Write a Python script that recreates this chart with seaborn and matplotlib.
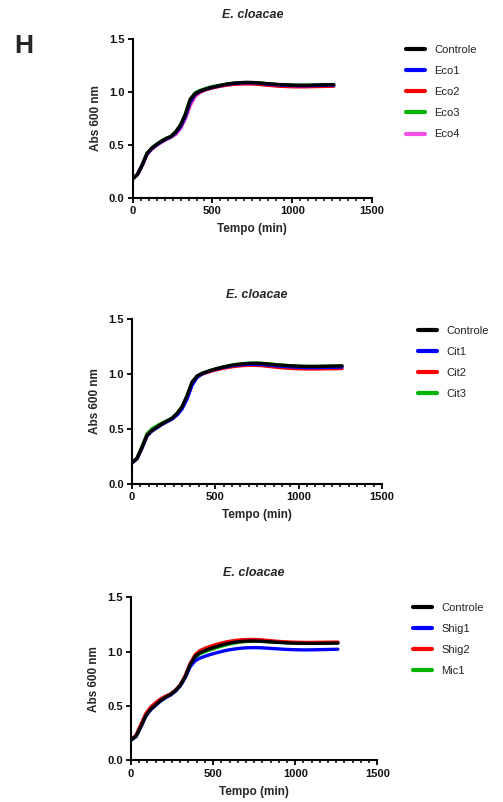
import matplotlib
matplotlib.use("Agg")
import matplotlib.pyplot as plt
import seaborn as sns
import pandas as pd
from matplotlib.ticker import MultipleLocator, FixedLocator
from matplotlib.lines import Line2D

# ---------------- data ----------------
TIME = [0, 30, 60, 90, 120, 150, 180, 210, 240, 270, 300, 330, 360, 390, 420,
        450, 480, 510, 540, 570, 600, 630, 660, 690, 720, 750, 780, 810, 840,
        870, 900, 930, 960, 990, 1020, 1050, 1080, 1110, 1140, 1170, 1200,
        1230, 1260]

# Panel 1 : Controle, Eco1..Eco4
ECO_CONTROLE = [0.180, 0.220, 0.310, 0.420, 0.470, 0.505, 0.535, 0.560, 0.580, 0.625,
                0.690, 0.790, 0.930, 0.985, 1.010, 1.025, 1.040, 1.050, 1.060, 1.070,
                1.078, 1.084, 1.088, 1.091, 1.092, 1.091, 1.088, 1.085, 1.081, 1.077,
                1.074, 1.071, 1.069, 1.067, 1.066, 1.065, 1.065, 1.066, 1.067, 1.068,
                1.069, 1.070, 1.071]
ECO1 = [0.180, 0.220, 0.310, 0.415, 0.465, 0.500, 0.530, 0.555, 0.577, 0.615,
        0.675, 0.770, 0.905, 0.978, 1.005, 1.022, 1.037, 1.048, 1.058, 1.067,
        1.075, 1.081, 1.085, 1.088, 1.089, 1.088, 1.085, 1.081, 1.077, 1.073,
        1.069, 1.066, 1.064, 1.062, 1.061, 1.060, 1.060, 1.061, 1.062, 1.063,
        1.064, 1.065, 1.066]
ECO2 = [0.180, 0.220, 0.310, 0.415, 0.465, 0.500, 0.530, 0.555, 0.576, 0.610,
        0.670, 0.765, 0.895, 0.972, 1.000, 1.018, 1.032, 1.043, 1.053, 1.061,
        1.068, 1.073, 1.076, 1.078, 1.078, 1.077, 1.074, 1.070, 1.066, 1.062,
        1.058, 1.055, 1.053, 1.051, 1.050, 1.050, 1.050, 1.051, 1.052, 1.053,
        1.054, 1.055, 1.056]
ECO3 = [0.180, 0.222, 0.315, 0.422, 0.472, 0.507, 0.537, 0.562, 0.582, 0.625,
        0.690, 0.790, 0.928, 0.990, 1.015, 1.030, 1.045, 1.055, 1.063, 1.071,
        1.078, 1.083, 1.087, 1.089, 1.090, 1.089, 1.086, 1.083, 1.079, 1.075,
        1.072, 1.069, 1.067, 1.065, 1.064, 1.064, 1.064, 1.065, 1.066, 1.067,
        1.068, 1.069, 1.070]
ECO4 = [0.180, 0.218, 0.305, 0.410, 0.460, 0.495, 0.525, 0.550, 0.572, 0.600,
        0.655, 0.745, 0.870, 0.955, 0.995, 1.018, 1.033, 1.045, 1.055, 1.063,
        1.070, 1.075, 1.078, 1.080, 1.080, 1.079, 1.076, 1.072, 1.068, 1.064,
        1.061, 1.058, 1.056, 1.055, 1.054, 1.054, 1.054, 1.055, 1.056, 1.057,
        1.058, 1.059, 1.060]

# Panel 2 : Controle, Cit1..Cit3
CIT_CONTROLE = [0.190, 0.230, 0.330, 0.440, 0.485, 0.515, 0.545, 0.570, 0.595, 0.640,
                0.700, 0.800, 0.925, 0.980, 1.005, 1.020, 1.035, 1.048, 1.060, 1.070,
                1.079, 1.086, 1.091, 1.095, 1.097, 1.097, 1.095, 1.091, 1.087, 1.083,
                1.079, 1.076, 1.073, 1.071, 1.069, 1.068, 1.068, 1.068, 1.069, 1.070,
                1.071, 1.072, 1.073]
CIT1 = [0.190, 0.228, 0.325, 0.435, 0.480, 0.510, 0.540, 0.565, 0.588, 0.625,
        0.680, 0.770, 0.895, 0.968, 1.000, 1.018, 1.033, 1.046, 1.057, 1.066,
        1.074, 1.080, 1.084, 1.087, 1.088, 1.087, 1.085, 1.081, 1.077, 1.073,
        1.069, 1.066, 1.063, 1.061, 1.059, 1.058, 1.058, 1.058, 1.059, 1.060,
        1.060, 1.061, 1.062]
CIT2 = [0.190, 0.230, 0.328, 0.438, 0.483, 0.513, 0.543, 0.567, 0.590, 0.632,
        0.690, 0.785, 0.910, 0.972, 0.998, 1.013, 1.027, 1.039, 1.049, 1.058,
        1.065, 1.071, 1.075, 1.078, 1.079, 1.078, 1.075, 1.070, 1.065, 1.060,
        1.056, 1.052, 1.049, 1.047, 1.046, 1.045, 1.045, 1.045, 1.046, 1.047,
        1.047, 1.048, 1.049]
CIT3 = [0.190, 0.235, 0.340, 0.455, 0.500, 0.528, 0.553, 0.575, 0.598, 0.640,
        0.700, 0.798, 0.922, 0.980, 1.005, 1.021, 1.036, 1.049, 1.061, 1.071,
        1.080, 1.087, 1.092, 1.095, 1.097, 1.097, 1.095, 1.091, 1.087, 1.083,
        1.079, 1.076, 1.073, 1.071, 1.069, 1.068, 1.068, 1.068, 1.069, 1.070,
        1.071, 1.072, 1.073]

# Panel 3 : Controle, Shig1, Shig2, Mic1
SHIG_CONTROLE = [0.187, 0.220, 0.310, 0.410, 0.470, 0.510, 0.550, 0.580, 0.605, 0.640,
                 0.690, 0.770, 0.880, 0.955, 0.990, 1.010, 1.027, 1.042, 1.056, 1.068,
                 1.078, 1.086, 1.092, 1.096, 1.098, 1.098, 1.097, 1.094, 1.091, 1.088,
                 1.085, 1.082, 1.080, 1.078, 1.077, 1.076, 1.076, 1.076, 1.076, 1.077,
                 1.077, 1.078, 1.078]
SHIG1 = [0.187, 0.218, 0.305, 0.405, 0.465, 0.505, 0.545, 0.575, 0.600, 0.635,
         0.685, 0.760, 0.860, 0.915, 0.940, 0.957, 0.972, 0.985, 0.997, 1.008,
         1.017, 1.024, 1.030, 1.034, 1.036, 1.037, 1.036, 1.034, 1.031, 1.028,
         1.025, 1.022, 1.020, 1.018, 1.017, 1.016, 1.016, 1.017, 1.018, 1.019,
         1.020, 1.021, 1.022]
SHIG2 = [0.190, 0.230, 0.330, 0.430, 0.490, 0.530, 0.565, 0.590, 0.610, 0.645,
         0.695, 0.780, 0.890, 0.970, 1.010, 1.030, 1.047, 1.062, 1.075, 1.086,
         1.095, 1.102, 1.107, 1.110, 1.112, 1.112, 1.110, 1.106, 1.102, 1.098,
         1.094, 1.091, 1.089, 1.087, 1.086, 1.085, 1.085, 1.085, 1.086, 1.086,
         1.087, 1.087, 1.088]
MIC1 = [0.187, 0.222, 0.315, 0.415, 0.475, 0.515, 0.552, 0.580, 0.603, 0.637,
        0.685, 0.765, 0.870, 0.945, 0.980, 0.998, 1.015, 1.030, 1.045, 1.058,
        1.070, 1.080, 1.087, 1.092, 1.095, 1.096, 1.095, 1.093, 1.090, 1.088,
        1.086, 1.084, 1.082, 1.081, 1.080, 1.080, 1.080, 1.080, 1.081, 1.081,
        1.082, 1.082, 1.083]

TITLE = "E. cloacae"
XLABEL = "Tempo (min)"
YLABEL = "Abs 600 nm"
XTICKS = [0, 500, 1000, 1500]
YTICKS = [0.0, 0.5, 1.0, 1.5]
YTICKLABELS = ["0.0", "0.5", "1.0", "1.5"]

BLACK, BLUE, RED, GREEN, PINK = "#000000", "#0000FF", "#FF0000", "#00B400", "#F050E6"

# ---------------- figure ----------------
sns.set_style("ticks")
plt.rcParams["font.family"] = ["Liberation Sans", "DejaVu Sans"]

W, H = 503, 802
fig = plt.figure(figsize=(W / 100, H / 100), dpi=100)

panels = [
    dict(box=(132.7, 39.3, 372.0, 197.7), leg=(406, 45),
         series=[("Controle", ECO_CONTROLE, BLACK), ("Eco1", ECO1, BLUE),
                 ("Eco2", ECO2, RED), ("Eco3", ECO3, GREEN), ("Eco4", ECO4, PINK)]),
    dict(box=(132.0, 319.0, 382.0, 483.7), leg=(418, 326),
         series=[("Controle", CIT_CONTROLE, BLACK), ("Cit1", CIT1, BLUE),
                 ("Cit2", CIT2, RED), ("Cit3", CIT3, GREEN)]),
    dict(box=(131.0, 597.3, 377.3, 760.3), leg=(413, 603),
         series=[("Controle", SHIG_CONTROLE, BLACK), ("Shig1", SHIG1, BLUE),
                 ("Shig2", SHIG2, RED), ("Mic1", MIC1, GREEN)]),
]

LW = 2.4
for p in panels:
    l, t, r, b = p["box"]
    ax = fig.add_axes([l / W, 1 - b / H, (r - l) / W, (b - t) / H])
    rows = []
    for name, vals, _ in p["series"]:
        for tt, vv in zip(TIME, vals):
            rows.append({"t": tt, "v": vv, "s": name})
    df = pd.DataFrame(rows)
    names = [s[0] for s in p["series"]]
    pal = {s[0]: s[2] for s in p["series"]}
    sns.lineplot(data=df, x="t", y="v", hue="s", hue_order=names[::-1],
                 palette=pal, linewidth=LW, estimator=None, legend=False, ax=ax)

    ax.set_xlim(0, 1500)
    ax.set_ylim(0, 1.5)
    ax.xaxis.set_major_locator(FixedLocator(XTICKS))
    ax.xaxis.set_minor_locator(MultipleLocator(50))
    ax.set_yticks(YTICKS)
    ax.set_yticklabels(YTICKLABELS)
    ax.set_xticklabels([str(x) for x in XTICKS])
    for lab in ax.get_xticklabels() + ax.get_yticklabels():
        lab.set_fontweight("bold")
        lab.set_fontsize(8)
    ax.tick_params(axis="both", which="major", length=3.5, width=1.3, pad=2.5,
                   color="black", labelcolor="#111111")
    ax.tick_params(axis="x", which="minor", length=2.2, width=1.1, color="black")
    sns.despine(ax=ax)
    for sp in ("left", "bottom"):
        ax.spines[sp].set_linewidth(1.5)
        ax.spines[sp].set_color("black")
    ax.set_xlabel(XLABEL, fontsize=8.5, fontweight="bold", labelpad=5)
    ax.set_ylabel(YLABEL, fontsize=8.5, fontweight="bold", labelpad=5)
    ax.set_title(TITLE, fontsize=9, fontweight="bold", fontstyle="italic", pad=15)

    handles = [Line2D([], [], color=c, lw=LW + 0.6) for _, _, c in p["series"]]
    lx, ly = p["leg"]
    ax.legend(handles, names, loc="upper left", bbox_to_anchor=(lx / W, 1 - ly / H),
              bbox_transform=fig.transFigure, frameon=False, fontsize=8,
              handlelength=1.75, handletextpad=0.8, labelspacing=1.0,
              borderpad=0, borderaxespad=0, labelcolor="#222222")

fig.text(14 / W, 1 - 46 / H, "H", fontsize=19, fontweight="bold", va="center", ha="left")

fig.savefig("out.png", dpi=100)
